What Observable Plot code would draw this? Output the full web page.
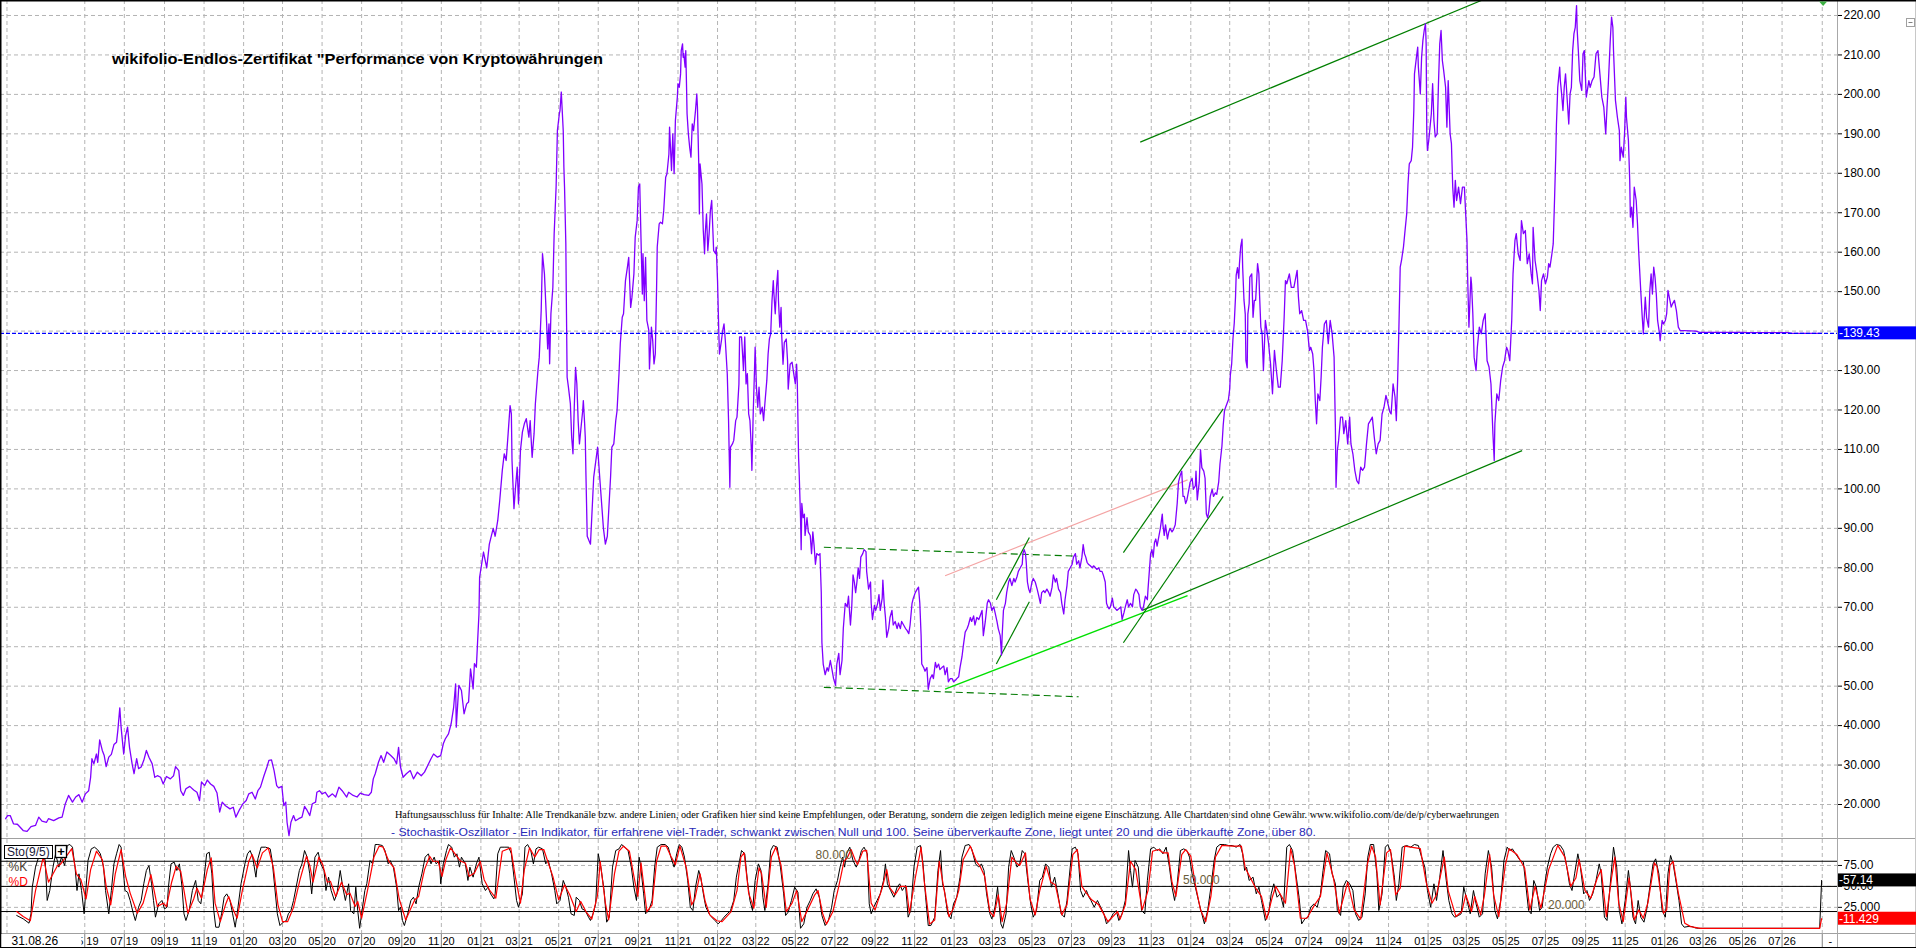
<!DOCTYPE html>
<html><head><meta charset="utf-8">
<script src="https://cdn.jsdelivr.net/npm/d3@7"></script>
<script src="https://cdn.jsdelivr.net/npm/@observablehq/plot@0.6"></script>
<style>
html,body{margin:0;padding:0;background:#fff;overflow:hidden}
#wrap{position:relative;width:1916px;height:948px;background:#fff;overflow:hidden}
#wrap svg{position:absolute;left:0}
</style></head><body><div id="wrap"></div>
<script>
// ---------- DATA ----------
const price = [["2018-12-30",16.4],["2019-01-02",17.2],["2019-01-06",17.2],["2019-01-11",15.1],["2019-01-17",15.0],["2019-01-21",14.3],["2019-01-26",13.4],["2019-02-01",13.2],["2019-02-07",14.4],["2019-02-14",14.7],["2019-02-19",16.8],["2019-02-24",15.8],["2019-03-03",15.5],["2019-03-06",16.4],["2019-03-14",15.9],["2019-03-22",16.6],["2019-03-27",16.8],["2019-04-01",20.2],["2019-04-06",22.3],["2019-04-12",20.6],["2019-04-17",21.9],["2019-04-22",22.5],["2019-04-27",20.6],["2019-05-02",22.7],["2019-05-07",23.5],["2019-05-10",26.9],["2019-05-12",31.6],["2019-05-15",30.3],["2019-05-19",32.8],["2019-05-21",30.7],["2019-05-24",36.4],["2019-05-28",33.7],["2019-05-31",32.4],["2019-06-03",29.6],["2019-06-07",32],["2019-06-11",32.7],["2019-06-15",35.2],["2019-06-19",35.8],["2019-06-21",38.8],["2019-06-24",44.5],["2019-06-26",39.6],["2019-06-30",32.8],["2019-07-03",37.5],["2019-07-06",39.6],["2019-07-09",34.5],["2019-07-13",30.3],["2019-07-16",27.8],["2019-07-20",31.6],["2019-07-23",29.1],["2019-07-27",29.5],["2019-07-31",31.2],["2019-08-04",33.7],["2019-08-08",32],["2019-08-13",30.3],["2019-08-17",26.9],["2019-08-21",27.3],["2019-08-26",26.9],["2019-08-30",25.2],["2019-09-04",27.1],["2019-09-10",26.5],["2019-09-15",27.3],["2019-09-18",29.6],["2019-09-23",28.6],["2019-09-26",23.5],["2019-09-30",22.3],["2019-10-04",24],["2019-10-10",24.6],["2019-10-16",23.7],["2019-10-21",23.1],["2019-10-25",21],["2019-10-28",25.7],["2019-11-02",24.8],["2019-11-06",26.2],["2019-11-11",25.2],["2019-11-16",24.6],["2019-11-21",22.9],["2019-11-25",18.1],["2019-11-29",20.6],["2019-12-04",19.7],["2019-12-11",18.9],["2019-12-16",19.3],["2019-12-20",16.8],["2019-12-25",18.5],["2019-12-31",20.2],
["2020-01-05",21],["2020-01-09",22.7],["2020-01-14",23.1],["2020-01-19",21.4],["2020-01-23",23.5],["2020-01-27",24.4],["2020-02-01",27.1],["2020-02-06",29.5],["2020-02-09",31.2],["2020-02-13",31.3],["2020-02-17",28.6],["2020-02-21",24.8],["2020-02-24",24.2],["2020-02-29",24.6],["2020-03-03",19.7],["2020-03-06",20.6],["2020-03-08",15.5],["2020-03-11",12.1],["2020-03-14",15.5],["2020-03-18",17.2],["2020-03-21",15.9],["2020-03-26",16.4],["2020-03-31",16.8],["2020-04-04",19.5],["2020-04-08",18.5],["2020-04-12",17.2],["2020-04-16",20.2],["2020-04-21",20.6],["2020-04-23",23.1],["2020-04-27",23.5],["2020-05-01",22.7],["2020-05-06",23.1],["2020-05-11",21.9],["2020-05-17",22.7],["2020-05-22",21.9],["2020-05-27",24.4],["2020-06-01",23.5],["2020-06-08",21.9],["2020-06-11",23.1],["2020-06-18",22.3],["2020-06-24",21.9],["2020-06-29",22.9],["2020-07-05",22.5],["2020-07-12",22.3],["2020-07-16",23.1],["2020-07-19",26.5],["2020-07-22",27.8],["2020-07-27",30.7],["2020-07-31",32.4],["2020-08-04",30.7],["2020-08-09",33.3],["2020-08-15",32.4],["2020-08-20",31.6],["2020-08-24",30.3],["2020-08-27",34.5],["2020-08-30",29.5],["2020-09-03",26.9],["2020-09-08",27.8],["2020-09-14",28.6],["2020-09-19",26.5],["2020-09-25",28.2],["2020-10-01",27.3],["2020-10-06",28.2],["2020-10-11",29.9],["2020-10-16",31.6],["2020-10-20",32.8],["2020-10-26",32],["2020-10-31",32.4],["2020-11-04",35.4],["2020-11-07",36.6],["2020-11-12",37.9],["2020-11-16",40.4],["2020-11-20",44.7],["2020-11-23",50.6],["2020-11-24",39.6],["2020-11-28",50.2],["2020-12-02",48.9],["2020-12-06",43],["2020-12-10",45.5],["2020-12-13",46],["2020-12-16",54.4],["2020-12-20",49.3],["2020-12-22",55.7],["2020-12-25",54.8],["2020-12-27",61.6],["2020-12-29",68.3],["2020-12-30",77.6],
["2021-01-05",84],["2021-01-10",80],["2021-01-14",86],["2021-01-20",90],["2021-01-23",88],["2021-01-27",92],["2021-01-30",97],["2021-02-03",104.7],["2021-02-06",108.9],["2021-02-09",107.2],["2021-02-12",114],["2021-02-15",121.1],["2021-02-17",119],["2021-02-18",107.2],["2021-02-21",95],["2021-02-23",99.6],["2021-02-26",105.5],["2021-02-28",96.2],["2021-03-03",109.7],["2021-03-06",114.4],["2021-03-09",116.5],["2021-03-12",117.8],["2021-03-16",113.1],["2021-03-18",117.3],["2021-03-21",108],["2021-03-24",114],["2021-03-26",121.6],["2021-03-30",130],["2021-04-01",133.4],["2021-04-04",145.2],["2021-04-06",159.6],["2021-04-09",154.5],["2021-04-12",143.5],["2021-04-14",135.5],["2021-04-16",141.8],["2021-04-17",131.7],["2021-04-19",144.4],["2021-04-22",151.1],["2021-04-24",164.7],["2021-04-27",176.5],["2021-04-29",190.8],["2021-05-02",195.1],["2021-05-03",195.9],["2021-05-05",200.6],["2021-05-08",190.8],["2021-05-09",181.5],["2021-05-10",176.5],["2021-05-12",162.1],["2021-05-13",144.4],["2021-05-14",128.3],["2021-05-16",125.8],["2021-05-19",121.6],["2021-05-21",113.1],["2021-05-23",108.9],["2021-05-25",120.7],["2021-05-27",130.8],["2021-05-29",126.6],["2021-05-31",117.3],["2021-06-02",111.4],["2021-06-04",114.8],["2021-06-07",119.8],["2021-06-08",122.4],["2021-06-10",116.5],["2021-06-11",113.1],["2021-06-12",103.8],["2021-06-14",88],["2021-06-19",86],["2021-06-24",103],["2021-06-30",110.6],["2021-07-04",101.3],["2021-07-09",90],["2021-07-12",86],["2021-07-15",88],["2021-07-20",103],["2021-07-22",110.6],["2021-07-25",111.4],["2021-07-28",117.3],["2021-07-30",119.8],["2021-08-02",129.2],["2021-08-04",136.8],["2021-08-07",143.5],["2021-08-09",144.4],["2021-08-12",152.8],["2021-08-15",156.2],["2021-08-17",158.7],["2021-08-20",146],["2021-08-22",148.6],["2021-08-25",154.5],["2021-08-27",163.8],["2021-08-30",168],["2021-09-01",176.5],["2021-09-03",177.3],["2021-09-05",163],["2021-09-07",149.4],["2021-09-08",159.6],["2021-09-10",147.7],["2021-09-12",158.7],["2021-09-14",142.7],["2021-09-17",140.2],["2021-09-18",130.4],["2021-09-21",141],["2021-09-23",137.6],["2021-09-25",131.7],["2021-09-27",134.2],["2021-09-29",151.1],["2021-09-30",161.3],["2021-10-03",167.2],["2021-10-05",167.6],["2021-10-08",167.2],["2021-10-10",170.6],["2021-10-13",179],["2021-10-15",179.9],["2021-10-18",184.9],["2021-10-19",191.7],["2021-10-22",180.7],["2021-10-24",190],["2021-10-26",179.9],["2021-10-28",193.4],["2021-10-31",199.3],["2021-11-01",202.7],["2021-11-03",201.8],["2021-11-05",205.2],["2021-11-06",211.1],["2021-11-08",212.8],["2021-11-09",209.4],["2021-11-10",210.3],["2021-11-12",206.9],["2021-11-13",211.1],["2021-11-14",203.5],["2021-11-15",195.1],["2021-11-17",190],["2021-11-19",186.6],["2021-11-21",184.1],["2021-11-23",192.5],["2021-11-25",190.8],["2021-11-28",195.9],["2021-11-30",200.1],["2021-12-01",196.8],["2021-12-03",182.4],["2021-12-04",169.7],["2021-12-05",182.4],["2021-12-08",177.3],["2021-12-10",165.5],["2021-12-12",159.6],["2021-12-13",164.7],["2021-12-15",169.7],["2021-12-17",160.4],["2021-12-19",164.7],["2021-12-21",170.6],["2021-12-23",173.1],["2021-12-25",164.7],["2021-12-26",160.4],["2021-12-29",159.6],["2021-12-30",161.3],
["2022-01-01",152.8],["2022-01-03",139.3],["2022-01-04",134.2],["2022-01-07",137.6],["2022-01-09",140.2],["2022-01-11",141.8],["2022-01-13",137.6],["2022-01-16",129.2],["2022-01-18",117.3],["2022-01-20",100.4],["2022-01-21",110.6],["2022-01-24",111.4],["2022-01-26",112.3],["2022-01-29",117.3],["2022-01-31",118.2],["2022-02-03",126.6],["2022-02-04",138.5],["2022-02-07",138.5],["2022-02-08",135.9],["2022-02-10",130],["2022-02-12",138.5],["2022-02-14",126.6],["2022-02-16",129.2],["2022-02-18",119],["2022-02-20",117.3],["2022-02-22",110.6],["2022-02-23",104.7],["2022-02-25",119],["2022-02-27",130],["2022-02-28",135.9],["2022-03-02",125.8],["2022-03-04",120.7],["2022-03-06",125.8],["2022-03-08",119],["2022-03-11",120.7],["2022-03-13",117.3],["2022-03-15",121.6],["2022-03-18",127.5],["2022-03-20",134.2],["2022-03-22",138],["2022-03-24",139.3],["2022-03-26",147.7],["2022-03-28",152.8],["2022-03-29",149.4],["2022-03-31",144.4],["2022-04-02",151.1],["2022-04-04",155.4],["2022-04-05",147.7],["2022-04-07",141],["2022-04-09",146],["2022-04-10",138.9],["2022-04-12",131.6],["2022-04-14",137.1],["2022-04-17",138],["2022-04-19",132.5],["2022-04-20",125.3],["2022-04-23",131.6],["2022-04-26",132.1],["2022-04-28",129.8],["2022-05-01",126.6],["2022-05-03",131.6],["2022-05-04",127.1],["2022-05-06",108.1],["2022-05-07",103.6],["2022-05-09",92.7],["2022-05-10",84.6],["2022-05-11",96.3],["2022-05-13",92.7],["2022-05-15",93.6],["2022-05-16",88.2],["2022-05-19",92.7],["2022-05-21",89.1],["2022-05-24",88.2],["2022-05-26",83.6],["2022-05-28",89.1],["2022-05-30",85.5],["2022-06-01",80.9],["2022-06-03",83.6],["2022-06-06",83.2],["2022-06-08",83.6],["2022-06-10",73.7],["2022-06-11",61],["2022-06-13",55.6],["2022-06-16",52.9],["2022-06-19",54.7],["2022-06-21",53.8],["2022-06-24",56.5],["2022-06-26",54.7],["2022-06-29",51.9],["2022-07-02",50.2],["2022-07-04",55.6],["2022-07-07",58.3],["2022-07-09",52.9],["2022-07-12",56.5],["2022-07-14",64.6],["2022-07-17",71],["2022-07-20",70.1],["2022-07-22",72.8],["2022-07-25",65.5],["2022-07-27",70.1],["2022-07-29",78.2],["2022-07-31",76.4],["2022-08-02",73.7],["2022-08-04",76.4],["2022-08-06",80],["2022-08-08",77.3],["2022-08-10",82.7],["2022-08-13",83.6],["2022-08-15",84.6],["2022-08-18",84.1],["2022-08-19",79.1],["2022-08-22",74.6],["2022-08-25",76.4],["2022-08-26",71],["2022-08-28",66.9],["2022-08-31",70.5],["2022-09-02",69.2],["2022-09-05",71],["2022-09-07",73.2],["2022-09-09",69.2],["2022-09-12",72.3],["2022-09-13",76.9],["2022-09-15",71],["2022-09-17",67.4],["2022-09-19",62.4],["2022-09-22",64.6],["2022-09-24",67.4],["2022-09-27",69.2],["2022-09-29",65.5],["2022-10-02",66.4],["2022-10-05",64.6],["2022-10-07",66],["2022-10-10",64.6],["2022-10-12",66.4],["2022-10-15",65.5],["2022-10-18",64.6],["2022-10-20",64.2],["2022-10-23",63.3],["2022-10-25",65.5],["2022-10-28",71],["2022-10-30",72.3],["2022-11-02",73.7],["2022-11-05",74.6],["2022-11-07",75.1],["2022-11-09",71],["2022-11-11",62.8],["2022-11-12",55.6],["2022-11-15",54.7],["2022-11-17",53.8],["2022-11-20",54.7],["2022-11-22",49.2],["2022-11-25",51.9],["2022-11-28",52.9],["2022-11-30",51.9],["2022-12-03",56],["2022-12-05",54.7],["2022-12-08",55.6],["2022-12-10",54.2],["2022-12-13",54.7],["2022-12-16",55.1],["2022-12-18",52.9],["2022-12-21",54.7],["2022-12-23",51.1],["2022-12-26",51.9],["2022-12-29",51.9],["2022-12-31",51.1],
["2023-01-03",51.5],["2023-01-05",51.9],["2023-01-08",52.4],["2023-01-10",54.7],["2023-01-13",57.4],["2023-01-15",60.1],["2023-01-18",63.7],["2023-01-21",64.6],["2023-01-23",65.5],["2023-01-26",67.4],["2023-01-28",66.4],["2023-01-31",67.8],["2023-02-02",65.5],["2023-02-05",67.4],["2023-02-08",66.9],["2023-02-10",67.8],["2023-02-13",69.2],["2023-02-15",62.8],["2023-02-18",66.4],["2023-02-21",71],["2023-02-23",71.9],["2023-02-26",71],["2023-02-28",69.2],["2023-03-03",70.1],["2023-03-05",68.7],["2023-03-08",66.4],["2023-03-10",64.6],["2023-03-13",62.8],["2023-03-15",57.9],["2023-03-16",62.8],["2023-03-18",69.2],["2023-03-21",71],["2023-03-23",73.7],["2023-03-26",76.4],["2023-03-28",77.3],["2023-03-31",75.5],["2023-04-03",77.3],["2023-04-05",76.4],["2023-04-08",77.8],["2023-04-10",79.1],["2023-04-13",80],["2023-04-16",80.9],["2023-04-17",83.6],["2023-04-19",84.6],["2023-04-21",83.6],["2023-04-22",81.8],["2023-04-24",76.4],["2023-04-26",74.6],["2023-04-28",73.7],["2023-05-01",76.4],["2023-05-03",77.3],["2023-05-06",76.4],["2023-05-09",74.6],["2023-05-11",73.2],["2023-05-14",71],["2023-05-16",73.7],["2023-05-19",74.2],["2023-05-21",73.7],["2023-05-24",74.6],["2023-05-27",73.7],["2023-05-29",72.8],["2023-06-01",75.1],["2023-06-03",78.2],["2023-06-06",76.4],["2023-06-08",77.3],["2023-06-11",74.6],["2023-06-14",73.7],["2023-06-16",71],["2023-06-19",68.3],["2023-06-21",71.9],["2023-06-24",75.5],["2023-06-26",79.1],["2023-06-29",80],["2023-07-02",80.9],["2023-07-04",82.7],["2023-07-07",83.6],["2023-07-09",80.9],["2023-07-12",81.8],["2023-07-14",80],["2023-07-17",82.7],["2023-07-19",85.9],["2023-07-21",83.6],["2023-07-23",82.7],["2023-07-25",81.4],["2023-07-27",80.9],["2023-07-30",80.5],["2023-08-02",80],["2023-08-04",80.5],["2023-08-07",80],["2023-08-09",79.6],["2023-08-12",80],["2023-08-14",79.1],["2023-08-17",79.1],["2023-08-19",78.2],["2023-08-22",76.4],["2023-08-24",71],["2023-08-26",70.1],["2023-08-28",69.6],["2023-08-30",70.1],["2023-09-02",72.3],["2023-09-04",70.1],["2023-09-07",69.6],["2023-09-09",69.2],["2023-09-12",69.6],["2023-09-15",70.1],["2023-09-17",66.9],["2023-09-20",68.7],["2023-09-22",70.1],["2023-09-25",71.9],["2023-09-27",70.1],["2023-09-30",71],["2023-10-03",70.1],["2023-10-05",73.2],["2023-10-08",74.6],["2023-10-10",74.2],["2023-10-13",73.2],["2023-10-15",70.1],["2023-10-18",69.2],["2023-10-20",70.1],["2023-10-23",72.8],["2023-10-26",71.9],["2023-10-27",74.6],["2023-10-29",79.1],["2023-10-31",83.6],["2023-11-02",84.6],["2023-11-04",82.7],["2023-11-06",86.4],["2023-11-08",87.3],["2023-11-10",85.5],["2023-11-13",88.2],["2023-11-15",90],["2023-11-18",93.6],["2023-11-19",90.9],["2023-11-21",88.2],["2023-11-23",90.9],["2023-11-26",87.3],["2023-11-28",89.1],["2023-11-30",90],["2023-12-03",89.1],["2023-12-05",89.6],["2023-12-08",90.9],["2023-12-11",96.3],["2023-12-13",101.7],["2023-12-16",103.6],["2023-12-18",104.5],["2023-12-20",98.1],["2023-12-22",98.1],["2023-12-24",96.3],["2023-12-26",97.2],["2023-12-29",99.9],["2023-12-31",101.7],
["2024-01-03",102.7],["2024-01-05",99.9],["2024-01-08",100.8],["2024-01-09",104.5],["2024-01-11",97.2],["2024-01-14",101.7],["2024-01-16",109.9],["2024-01-18",105.4],["2024-01-21",104.5],["2024-01-23",102.7],["2024-01-25",93.6],["2024-01-27",92.7],["2024-01-29",94.5],["2024-01-31",98.1],["2024-02-03",99.9],["2024-02-05",98.1],["2024-02-08",99],["2024-02-10",98.6],["2024-02-13",101.7],["2024-02-15",106.3],["2024-02-18",110.8],["2024-02-20",116.2],["2024-02-22",119.9],["2024-02-24",120.8],["2024-02-26",121.7],["2024-02-28",122.6],["2024-03-01",125.3],["2024-03-02",128.9],["2024-03-04",131.6],["2024-03-06",138],["2024-03-08",142],["2024-03-10",148.8],["2024-03-11",154.2],["2024-03-13",156.1],["2024-03-15",153.4],["2024-03-16",157],["2024-03-18",161.5],["2024-03-20",163.3],["2024-03-21",156.1],["2024-03-23",147.9],["2024-03-25",144.3],["2024-03-26",132.5],["2024-03-28",130.7],["2024-03-29",144.3],["2024-03-31",147],["2024-04-01",153.7],["2024-04-04",154.5],["2024-04-06",143.5],["2024-04-08",147.8],["2024-04-10",147.8],["2024-04-13",157.1],["2024-04-15",154.5],["2024-04-16",149.4],["2024-04-18",141],["2024-04-20",139.3],["2024-04-22",130],["2024-04-25",142.7],["2024-04-28",139.3],["2024-04-30",136.8],["2024-05-03",131.7],["2024-05-06",124.1],["2024-05-09",135.1],["2024-05-12",130],["2024-05-15",125.8],["2024-05-18",125.8],["2024-05-21",132.5],["2024-05-24",143.5],["2024-05-26",152.8],["2024-05-28",152],["2024-06-01",154.5],["2024-06-04",151.1],["2024-06-08",151.1],["2024-06-11",153.7],["2024-06-13",155.4],["2024-06-15",148.6],["2024-06-17",144.4],["2024-06-20",145.2],["2024-06-23",142.7],["2024-06-26",142.7],["2024-06-29",140.1],["2024-07-02",135.1],["2024-07-04",135.9],["2024-07-07",134.2],["2024-07-09",130],["2024-07-11",122.4],["2024-07-13",116.5],["2024-07-15",124.1],["2024-07-18",122.4],["2024-07-20",128.3],["2024-07-22",135.9],["2024-07-25",141.8],["2024-07-28",142.7],["2024-07-31",136.8],["2024-08-03",142.7],["2024-08-06",139.3],["2024-08-09",133.4],["2024-08-11",115.6],["2024-08-12",100.4],["2024-08-14",109.7],["2024-08-16",112.3],["2024-08-19",118.2],["2024-08-22",118.2],["2024-08-24",114],["2024-08-27",117.3],["2024-08-30",111.4],["2024-09-02",118.2],["2024-09-04",111.4],["2024-09-07",108.9],["2024-09-10",104.7],["2024-09-13",102.1],["2024-09-16",101.3],["2024-09-19",105.5],["2024-09-22",104.7],["2024-09-25",105.5],["2024-09-28",111.4],["2024-10-01",116.5],["2024-10-04",117.3],["2024-10-07",118.2],["2024-10-10",113.1],["2024-10-13",108.9],["2024-10-16",111.4],["2024-10-19",112.3],["2024-10-22",119],["2024-10-25",120.7],["2024-10-28",123.7],["2024-10-30",122.4],["2024-11-03",119.5],["2024-11-05",119],["2024-11-08",126.6],["2024-11-11",123.3],["2024-11-13",117.3],["2024-11-15",127.5],["2024-11-17",141],["2024-11-19",156.2],["2024-11-21",157.9],["2024-11-24",161.3],["2024-11-26",164.7],["2024-11-29",169.7],["2024-12-01",177.3],["2024-12-03",182.4],["2024-12-06",183.2],["2024-12-08",186.6],["2024-12-10",195.9],["2024-12-11",205.2],["2024-12-14",209.4],["2024-12-16",212],["2024-12-17",206.9],["2024-12-20",200.1],["2024-12-22",209.4],["2024-12-24",213.7],["2024-12-26",216.2],["2024-12-28",217.9],["2024-12-29",212.8],["2024-12-30",190],["2024-12-31",185.8],
["2025-01-02",188.3],["2025-01-03",190],["2025-01-06",195.1],["2025-01-08",202.7],["2025-01-10",193.4],["2025-01-12",189.2],["2025-01-15",190],["2025-01-17",202.7],["2025-01-19",212.8],["2025-01-21",216.2],["2025-01-23",208.6],["2025-01-25",206.1],["2025-01-28",201.8],["2025-01-30",191.7],["2025-02-01",203.5],["2025-02-04",190],["2025-02-06",187.5],["2025-02-08",176.5],["2025-02-10",171.4],["2025-02-12",178.2],["2025-02-14",173.1],["2025-02-17",176.5],["2025-02-20",172.3],["2025-02-23",176.5],["2025-02-26",176.5],["2025-02-27",173.1],["2025-03-02",163],["2025-03-03",153.7],["2025-03-05",141],["2025-03-08",153.7],["2025-03-09",152],["2025-03-11",144.4],["2025-03-13",133.4],["2025-03-16",130],["2025-03-18",135.9],["2025-03-21",141],["2025-03-24",139.3],["2025-03-27",142.7],["2025-03-30",144.4],["2025-04-02",132.5],["2025-04-05",130.9],["2025-04-08",126.6],["2025-04-11",114],["2025-04-13",107.2],["2025-04-14",116.5],["2025-04-17",124.1],["2025-04-20",122.4],["2025-04-23",127.5],["2025-04-26",130.9],["2025-04-29",132.5],["2025-05-02",135.9],["2025-05-04",135.1],["2025-05-07",132.5],["2025-05-10",142.7],["2025-05-12",154.5],["2025-05-15",163],["2025-05-17",164.7],["2025-05-20",159.6],["2025-05-23",157.9],["2025-05-25",168],["2025-05-28",164.7],["2025-05-31",165.5],["2025-06-03",157.1],["2025-06-06",159.6],["2025-06-09",154.5],["2025-06-11",152],["2025-06-12",166.3],["2025-06-15",157.9],["2025-06-18",154.5],["2025-06-21",150.3],["2025-06-23",145.2],["2025-06-25",152.8],["2025-06-28",154.5],["2025-07-01",152],["2025-07-04",153.7],["2025-07-06",157.1],["2025-07-08",156.2],["2025-07-11",159.6],["2025-07-13",162.1],["2025-07-15",173.1],["2025-07-17",184.9],["2025-07-18",192.5],["2025-07-20",201.8],["2025-07-23",206.9],["2025-07-24",203.5],["2025-07-26",200.1],["2025-07-28",195.9],["2025-07-30",201.8],["2025-08-01",205.2],["2025-08-03",200.1],["2025-08-06",192.5],["2025-08-08",200.1],["2025-08-10",201.8],["2025-08-12",211.1],["2025-08-14",215.4],["2025-08-16",217],["2025-08-18",222.5],["2025-08-19",216.2],["2025-08-21",210.3],["2025-08-23",203.5],["2025-08-26",201],["2025-08-28",210.3],["2025-08-30",211.1],["2025-09-02",199.3],["2025-09-06",203.5],["2025-09-08",201.8],["2025-09-11",203.5],["2025-09-14",204.4],["2025-09-17",210.3],["2025-09-20",211.1],["2025-09-23",205.2],["2025-09-26",199.3],["2025-09-29",196.8],["2025-10-02",190],["2025-10-04",196.8],["2025-10-06",202.7],["2025-10-09",213.7],["2025-10-11",219.6],["2025-10-13",217],["2025-10-14",211.1],["2025-10-17",198.5],["2025-10-20",194.2],["2025-10-23",190.8],["2025-10-24",183.2],["2025-10-26",186.6],["2025-10-29",184.1],["2025-10-31",190],["2025-11-02",199.3],["2025-11-03",194.2],["2025-11-06",188.3],["2025-11-08",178.2],["2025-11-09",168.9],["2025-11-11",171.4],["2025-11-13",166.3],["2025-11-15",176.5],["2025-11-18",173.1],["2025-11-20",167.2],["2025-11-22",159.6],["2025-11-25",150.3],["2025-11-27",144.4],["2025-11-29",139.3],["2025-12-02",148.6],["2025-12-04",143.5],["2025-12-07",141],["2025-12-09",150.3],["2025-12-11",154.5],["2025-12-13",149.4],["2025-12-15",156.2],["2025-12-17",153.7],["2025-12-19",149.4],["2025-12-21",142.7],["2025-12-24",139.3],["2025-12-25",137.6],["2025-12-28",142.7],["2025-12-30",141.8],
["2026-01-02",142.7],["2026-01-04",144.4],["2026-01-06",150.3],["2026-01-09",147.8],["2026-01-11",146.1],["2026-01-13",146.9],["2026-01-16",147.8],["2026-01-19",145.2],["2026-01-22",141],["2026-01-25",140.1],["2026-01-31",140.1],["2026-02-18",140],["2026-02-24",139.7],["2026-04-30",139.7],["2026-05-06",139.6],["2026-07-10",139.6],["2026-07-16",139.43],["2026-08-31",139.43]];

const stochK = [["2019-01-16",15.3],["2019-01-26",11.3],["2019-02-04",6.1],["2019-02-07",17.3],["2019-02-09",49.1],["2019-02-14",73],["2019-02-18",82.9],["2019-02-23",94.8],["2019-03-01",80.9],["2019-03-04",33.2],["2019-03-08",45.1],["2019-03-13",73],["2019-03-17",88.9],["2019-03-22",73],["2019-03-26",84.9],["2019-03-31",74.9],["2019-04-04",98.8],["2019-04-08",100],["2019-04-12",96.8],["2019-04-16",73],["2019-04-19",45.1],["2019-04-22",65],["2019-04-26",45.1],["2019-04-30",17.3],["2019-05-03",49.1],["2019-05-06",80.9],["2019-05-11",94.8],["2019-05-16",96.8],["2019-05-21",93.6],["2019-05-25",88.9],["2019-05-30",73],["2019-06-02",45.1],["2019-06-07",17.3],["2019-06-11",45.1],["2019-06-15",76.9],["2019-06-19",88.9],["2019-06-23",100],["2019-06-26",96.8],["2019-06-29",73],["2019-07-02",45.1],["2019-07-06",43.1],["2019-07-10",33.2],["2019-07-15",17.3],["2019-07-18",9.3],["2019-07-23",25.2],["2019-07-27",33.2],["2019-07-31",53.1],["2019-08-04",69],["2019-08-08",74.9],["2019-08-12",53.1],["2019-08-15",33.2],["2019-08-18",13.3],["2019-08-23",29.2],["2019-08-28",33.2],["2019-09-01",23.2],["2019-09-05",25.2],["2019-09-07",49.1],["2019-09-11",76.9],["2019-09-16",78.9],["2019-09-20",69],["2019-09-24",76.9],["2019-09-28",49.1],["2019-10-01",17.3],["2019-10-04",9.3],["2019-10-09",21.2],["2019-10-14",45.1],["2019-10-19",57.1],["2019-10-23",33.2],["2019-10-27",29.2],["2019-10-31",53.1],["2019-11-05",88.9],["2019-11-09",90.8],["2019-11-13",65],["2019-11-16",21.2],["2019-11-19",1.3],["2019-11-24",1.3],["2019-11-28",17.3],["2019-12-02",37.1],["2019-12-06",41.1],["2019-12-11",33.2],["2019-12-15",17.3],["2019-12-19",1.3],["2019-12-22",17.3],["2019-12-28",53.1],
["2020-01-03",76.9],["2020-01-07",88.9],["2020-01-11",92.8],["2020-01-15",84.9],["2020-01-20",61],["2020-01-23",82.9],["2020-01-28",96.8],["2020-02-04",96.8],["2020-02-11",94.8],["2020-02-14",80.9],["2020-02-18",49.1],["2020-02-22",17.3],["2020-02-26",3.3],["2020-03-02",7.3],["2020-03-07",9.3],["2020-03-10",17.3],["2020-03-14",21.2],["2020-03-18",33.2],["2020-03-22",49.1],["2020-03-27",69],["2020-03-31",76.9],["2020-04-04",92.8],["2020-04-08",84.9],["2020-04-12",65],["2020-04-15",41.1],["2020-04-20",84.9],["2020-04-25",90.8],["2020-04-29",76.9],["2020-05-04",69],["2020-05-07",45.1],["2020-05-11",61],["2020-05-15",45.1],["2020-05-20",33.2],["2020-05-24",41.1],["2020-05-29",69],["2020-06-02",49.1],["2020-06-06",33.2],["2020-06-11",53.1],["2020-06-14",21.2],["2020-06-19",17.3],["2020-06-22",49.1],["2020-06-25",21.2],["2020-06-28",0],["2020-07-01",17.3],["2020-07-06",45.1],["2020-07-09",53.1],["2020-07-14",80.9],["2020-07-18",76.9],["2020-07-22",100],["2020-07-26",100],["2020-08-02",98.8],["2020-08-06",92.8],["2020-08-11",76.9],["2020-08-14",80.9],["2020-08-19",73],["2020-08-24",49.1],["2020-08-27",21.2],["2020-08-30",25.2],["2020-09-02",9.3],["2020-09-05",3.3],["2020-09-10",17.3],["2020-09-15",33.2],["2020-09-19",37.1],["2020-09-23",29.2],["2020-09-27",49.1],["2020-10-02",65],["2020-10-07",84.9],["2020-10-12",88.9],["2020-10-16",76.9],["2020-10-21",84.9],["2020-10-24",76.9],["2020-10-29",80.9],["2020-10-31",53.1],["2020-11-04",76.9],["2020-11-09",92.8],["2020-11-12",100],["2020-11-17",96.8],["2020-11-21",84.9],["2020-11-25",88.9],["2020-11-29",73],["2020-12-02",84.9],["2020-12-08",76.9],["2020-12-12",57.1],["2020-12-15",73],["2020-12-20",61],["2020-12-25",76.9],["2020-12-29",84.9],
["2021-01-03",53.1],["2021-01-08",45.1],["2021-01-12",49.1],["2021-01-16",41.1],["2021-01-21",35.1],["2021-01-23",41.1],["2021-01-27",88.9],["2021-01-31",96.8],["2021-02-07",96.8],["2021-02-13",96.8],["2021-02-17",88.9],["2021-02-21",61],["2021-02-25",33.2],["2021-02-28",25.2],["2021-03-06",41.1],["2021-03-10",96.8],["2021-03-14",100],["2021-03-19",92.8],["2021-03-23",76.9],["2021-03-27",94.8],["2021-03-31",96.8],["2021-04-06",94.8],["2021-04-11",76.9],["2021-04-15",80.9],["2021-04-20",65],["2021-04-25",45.1],["2021-04-28",29.2],["2021-05-03",33.2],["2021-05-08",57.1],["2021-05-12",49.1],["2021-05-16",37.1],["2021-05-20",17.3],["2021-05-25",15.3],["2021-05-28",37.1],["2021-06-02",33.2],["2021-06-06",23.2],["2021-06-11",21.2],["2021-06-16",13.3],["2021-06-19",9.3],["2021-06-23",17.3],["2021-06-27",29.2],["2021-07-01",88.9],["2021-07-05",73],["2021-07-10",45.1],["2021-07-14",7.3],["2021-07-18",13.3],["2021-07-23",73],["2021-07-28",92.8],["2021-08-02",94.8],["2021-08-06",100],["2021-08-11",96.8],["2021-08-16",92.8],["2021-08-21",73],["2021-08-25",49.1],["2021-08-29",33.2],["2021-09-02",84.9],["2021-09-04",76.9],["2021-09-09",41.1],["2021-09-12",17.3],["2021-09-17",21.2],["2021-09-22",33.2],["2021-09-26",73],["2021-09-30",96.8],["2021-10-06",100],["2021-10-12",100],["2021-10-17",96.8],["2021-10-21",84.9],["2021-10-26",73],["2021-10-30",88.9],["2021-11-03",100],["2021-11-07",96.8],["2021-11-11",84.9],["2021-11-16",57.1],["2021-11-20",25.2],["2021-11-24",21.2],["2021-11-28",49.1],["2021-12-03",69],["2021-12-06",61],["2021-12-11",37.1],["2021-12-14",25.2],["2021-12-19",17.3],["2021-12-23",13.3],["2021-12-28",9.3],
["2022-01-02",5.3],["2022-01-07",9.3],["2022-01-11",13.3],["2022-01-16",17.3],["2022-01-21",21.2],["2022-01-26",33.2],["2022-01-30",61],["2022-02-04",80.9],["2022-02-07",92.8],["2022-02-12",88.9],["2022-02-16",57.1],["2022-02-20",33.2],["2022-02-24",21.2],["2022-02-28",57.1],["2022-03-05",76.9],["2022-03-09",69],["2022-03-12",37.1],["2022-03-15",21.2],["2022-03-20",53.1],["2022-03-24",92.8],["2022-03-28",98.8],["2022-04-03",96.8],["2022-04-08",73],["2022-04-13",41.1],["2022-04-16",15.3],["2022-04-20",19.3],["2022-04-25",33.2],["2022-04-30",49.1],["2022-05-05",43.1],["2022-05-09",0],["2022-05-14",5.3],["2022-05-19",25.2],["2022-05-24",33.2],["2022-05-28",41.1],["2022-06-02",47.1],["2022-06-07",37.1],["2022-06-11",15.3],["2022-06-16",3.3],["2022-06-21",9.3],["2022-06-26",25.2],["2022-06-30",45.1],["2022-07-05",57.1],["2022-07-09",73],["2022-07-13",84.9],["2022-07-16",73],["2022-07-19",88.9],["2022-07-24",96.8],["2022-07-29",80.9],["2022-08-03",73],["2022-08-07",80.9],["2022-08-11",92.8],["2022-08-15",96.8],["2022-08-20",88.9],["2022-08-23",29.2],["2022-08-26",17.3],["2022-08-30",25.2],["2022-09-04",33.2],["2022-09-09",41.1],["2022-09-14",57.1],["2022-09-17",76.9],["2022-09-20",53.1],["2022-09-25",45.1],["2022-09-30",37.1],["2022-10-05",49.1],["2022-10-09",53.1],["2022-10-13",45.1],["2022-10-18",51.1],["2022-10-22",13.3],["2022-10-26",21.2],["2022-10-31",73],["2022-11-05",96.8],["2022-11-10",98.8],["2022-11-14",76.9],["2022-11-18",37.1],["2022-11-22",3.3],["2022-11-26",3.3],["2022-12-02",13.3],["2022-12-07",69],["2022-12-11",92.8],["2022-12-14",53.1],["2022-12-17",45.1],["2022-12-22",17.3],["2022-12-27",11.3],["2022-12-31",29.2],
["2023-01-05",37.1],["2023-01-10",61],["2023-01-13",84.9],["2023-01-18",98.8],["2023-01-24",100],["2023-01-28",94.8],["2023-02-03",76.9],["2023-02-08",73],["2023-02-12",76.9],["2023-02-16",69],["2023-02-20",41.1],["2023-02-25",17.3],["2023-02-28",11.3],["2023-03-05",25.2],["2023-03-09",49.1],["2023-03-14",5.3],["2023-03-17",0],["2023-03-22",17.3],["2023-03-26",73],["2023-03-30",92.8],["2023-04-03",84.9],["2023-04-08",73],["2023-04-12",76.9],["2023-04-16",92.8],["2023-04-20",88.9],["2023-04-24",61],["2023-04-29",29.2],["2023-05-03",13.3],["2023-05-08",21.2],["2023-05-13",57.1],["2023-05-17",61],["2023-05-22",76.9],["2023-05-27",73],["2023-05-31",49.1],["2023-06-05",61],["2023-06-10",41.1],["2023-06-15",17.3],["2023-06-20",13.3],["2023-06-24",33.2],["2023-06-29",73],["2023-07-02",94.8],["2023-07-07",96.8],["2023-07-11",88.9],["2023-07-15",45.1],["2023-07-19",37.1],["2023-07-24",45.1],["2023-07-28",37.1],["2023-07-31",33.2],["2023-08-05",25.2],["2023-08-10",33.2],["2023-08-15",25.2],["2023-08-20",17.3],["2023-08-24",5.3],["2023-08-29",9.3],["2023-09-03",17.3],["2023-09-08",21.2],["2023-09-12",9.3],["2023-09-17",17.3],["2023-09-22",33.2],["2023-09-27",92.8],["2023-09-30",69],["2023-10-03",49.1],["2023-10-07",80.9],["2023-10-12",73],["2023-10-17",21.2],["2023-10-22",17.3],["2023-10-26",57.1],["2023-10-31",94.8],["2023-11-05",96.8],["2023-11-10",92.8],["2023-11-14",94.8],["2023-11-19",88.9],["2023-11-24",96.8],["2023-11-29",73],["2023-12-03",49.1],["2023-12-07",33.2],["2023-12-11",53.1],["2023-12-16",92.8],["2023-12-21",94.8],["2023-12-26",92.8],["2023-12-30",84.9],
["2024-01-03",65],["2024-01-08",49.1],["2024-01-14",29.2],["2024-01-18",17.3],["2024-01-22",5.3],["2024-01-27",21.2],["2024-02-01",49.1],["2024-02-06",80.9],["2024-02-10",96.8],["2024-02-15",100],["2024-02-22",100],["2024-02-28",98.8],["2024-03-05",98.8],["2024-03-11",96.8],["2024-03-17",100],["2024-03-21",88.9],["2024-03-24",69],["2024-03-27",73],["2024-03-31",57.1],["2024-04-06",61],["2024-04-11",41.1],["2024-04-15",49.1],["2024-04-19",33.2],["2024-04-25",9.3],["2024-04-30",17.3],["2024-05-04",41.1],["2024-05-08",53.1],["2024-05-13",37.1],["2024-05-18",41.1],["2024-05-23",25.2],["2024-05-28",96.8],["2024-06-01",100],["2024-06-06",92.8],["2024-06-11",65],["2024-06-16",37.1],["2024-06-20",5.3],["2024-06-25",11.3],["2024-06-30",13.3],["2024-07-04",25.2],["2024-07-09",29.2],["2024-07-14",25.2],["2024-07-19",41.1],["2024-07-23",69],["2024-07-27",92.8],["2024-08-02",88.9],["2024-08-06",65],["2024-08-11",53.1],["2024-08-14",21.2],["2024-08-19",15.3],["2024-08-23",49.1],["2024-08-28",57.1],["2024-09-02",53.1],["2024-09-07",45.1],["2024-09-11",17.3],["2024-09-16",9.3],["2024-09-21",13.3],["2024-09-26",41.1],["2024-09-30",84.9],["2024-10-04",100],["2024-10-09",100],["2024-10-14",65],["2024-10-17",21.2],["2024-10-22",41.1],["2024-10-27",96.8],["2024-10-31",100],["2024-11-05",88.9],["2024-11-10",61],["2024-11-13",33.2],["2024-11-17",53.1],["2024-11-22",96.8],["2024-11-29",98.8],["2024-12-05",96.8],["2024-12-11",100],["2024-12-17",98.8],["2024-12-22",84.9],["2024-12-27",73],["2024-12-31",45.1],
["2025-01-05",25.2],["2025-01-10",53.1],["2025-01-14",33.2],["2025-01-19",61],["2025-01-24",92.8],["2025-01-29",57.1],["2025-02-02",33.2],["2025-02-07",17.3],["2025-02-11",13.3],["2025-02-17",15.3],["2025-02-21",17.3],["2025-02-25",49.1],["2025-03-02",33.2],["2025-03-07",17.3],["2025-03-12",45.1],["2025-03-16",29.2],["2025-03-21",13.3],["2025-03-26",17.3],["2025-03-30",65],["2025-04-04",92.8],["2025-04-09",73],["2025-04-14",21.2],["2025-04-18",11.3],["2025-04-23",33.2],["2025-04-28",80.9],["2025-05-03",96.8],["2025-05-07",92.8],["2025-05-11",94.8],["2025-05-16",88.9],["2025-05-23",80.9],["2025-05-28",78.9],["2025-05-31",57.1],["2025-06-05",21.2],["2025-06-09",17.3],["2025-06-13",57.1],["2025-06-17",49.1],["2025-06-22",21.2],["2025-06-26",25.2],["2025-06-30",53.1],["2025-07-04",73],["2025-07-09",88.9],["2025-07-13",96.8],["2025-07-18",100],["2025-07-24",98.8],["2025-07-29",92.8],["2025-08-03",73],["2025-08-07",53.1],["2025-08-11",45.1],["2025-08-15",65],["2025-08-20",88.9],["2025-08-24",73],["2025-08-29",41.1],["2025-09-03",45.1],["2025-09-07",33.2],["2025-09-12",41.1],["2025-09-17",57.1],["2025-09-22",76.9],["2025-09-25",65],["2025-09-30",13.3],["2025-10-04",9.3],["2025-10-09",53.1],["2025-10-14",96.8],["2025-10-19",73],["2025-10-23",21.2],["2025-10-27",5.3],["2025-11-01",33.2],["2025-11-06",69],["2025-11-09",49.1],["2025-11-13",13.3],["2025-11-17",5.3],["2025-11-21",33.2],["2025-11-25",13.3],["2025-11-30",7.3],["2025-12-04",21.2],["2025-12-09",49.1],["2025-12-14",76.9],["2025-12-18",82.9],["2025-12-23",65],["2025-12-28",21.2],
["2026-01-02",13.3],["2026-01-06",65],["2026-01-10",86.9],["2026-01-14",76.9],["2026-01-19",53.1],["2026-01-23",33.2],["2026-01-27",5.3],["2026-01-31",1.3],["2026-02-06",2.1],["2026-02-12",2.1],["2026-02-17",0.5],["2026-02-22",0],["2026-08-28",0],["2026-08-31",57.14]];

const stochD = [["2019-01-16",20],["2019-01-26",14],["2019-02-06",9],["2019-02-14",45],["2019-02-26",85],["2019-03-06",55],["2019-03-20",75],["2019-03-24",76],["2019-03-28",80],["2019-04-11",95],["2019-04-18",65],["2019-04-25",58],["2019-05-03",35],["2019-05-10",70],["2019-05-19",92],["2019-05-28",82],["2019-06-03",50],["2019-06-10",28],["2019-06-17",65],["2019-06-26",94],["2019-07-03",62],["2019-07-10",42],["2019-07-21",18],["2019-07-30",30],["2019-08-11",64],["2019-08-21",26],["2019-08-30",30],["2019-09-04",26],["2019-09-12",55],["2019-09-19",74],["2019-09-26",68],["2019-10-07",18],["2019-10-16",35],["2019-10-21",48],["2019-10-28",36],["2019-11-06",70],["2019-11-12",84],["2019-11-18",30],["2019-11-26",8],["2019-12-04",28],["2019-12-09",38],["2019-12-16",22],["2019-12-22",12],["2019-12-30",45],
["2020-01-09",80],["2020-01-14",88],["2020-01-22",72],["2020-01-30",90],["2020-02-08",96],["2020-02-16",72],["2020-02-23",28],["2020-03-01",8],["2020-03-09",8],["2020-03-18",25],["2020-03-28",58],["2020-04-07",86],["2020-04-12",75],["2020-04-17",55],["2020-04-26",85],["2020-05-02",76],["2020-05-09",55],["2020-05-14",56],["2020-05-22",38],["2020-05-31",55],["2020-06-08",40],["2020-06-13",42],["2020-06-21",26],["2020-06-25",32],["2020-07-01",12],["2020-07-10",45],["2020-07-20",85],["2020-07-28",98],["2020-08-03",97],["2020-08-12",80],["2020-08-20",72],["2020-08-28",35],["2020-09-07",10],["2020-09-14",22],["2020-09-21",34],["2020-09-27",38],["2020-10-06",70],["2020-10-14",86],["2020-10-19",80],["2020-10-27",80],["2020-11-02",62],["2020-11-08",82],["2020-11-15",96],["2020-11-23",88],["2020-12-01",80],["2020-12-08",78],["2020-12-14",62],["2020-12-22",66],["2020-12-31",80],
["2021-01-06",58],["2021-01-14",46],["2021-01-24",36],["2021-01-30",70],["2021-02-03",92],["2021-02-16",96],["2021-02-23",62],["2021-03-03",30],["2021-03-09",70],["2021-03-17",96],["2021-03-25",85],["2021-04-01",94],["2021-04-08",94],["2021-04-14",80],["2021-04-22",62],["2021-05-01",34],["2021-05-10",52],["2021-05-18",40],["2021-05-28",20],["2021-06-04",32],["2021-06-12",20],["2021-06-21",11],["2021-06-30",40],["2021-07-04",80],["2021-07-12",30],["2021-07-17",10],["2021-07-26",65],["2021-08-02",92],["2021-08-09",98],["2021-08-18",92],["2021-08-25",62],["2021-08-31",38],["2021-09-05",78],["2021-09-14",20],["2021-09-22",28],["2021-09-29",80],["2021-10-06",98],["2021-10-14",98],["2021-10-21",86],["2021-10-28",76],["2021-11-04",98],["2021-11-14",72],["2021-11-22",28],["2021-11-27",35],["2021-12-05",65],["2021-12-13",32],["2021-12-20",16],["2021-12-31",9],
["2022-01-08",8],["2022-01-22",20],["2022-01-31",45],["2022-02-06",85],["2022-02-11",90],["2022-02-18",42],["2022-02-26",24],["2022-03-06",72],["2022-03-10",65],["2022-03-17",25],["2022-03-25",85],["2022-04-01",97],["2022-04-09",75],["2022-04-17",20],["2022-04-26",30],["2022-05-03",45],["2022-05-11",8],["2022-05-20",22],["2022-05-31",40],["2022-06-05",45],["2022-06-12",18],["2022-06-18",5],["2022-06-28",20],["2022-07-07",50],["2022-07-15",80],["2022-07-20",84],["2022-07-26",94],["2022-08-01",82],["2022-08-05",76],["2022-08-13",92],["2022-08-19",93],["2022-08-26",30],["2022-09-01",22],["2022-09-12",48],["2022-09-19",70],["2022-09-24",48],["2022-10-02",40],["2022-10-10",50],["2022-10-19",50],["2022-10-24",18],["2022-11-02",60],["2022-11-11",97],["2022-11-16",55],["2022-11-24",5],["2022-12-02",10],["2022-12-09",80],["2022-12-16",48],["2022-12-24",14],["2022-12-31",24],
["2023-01-08",45],["2023-01-15",82],["2023-01-26",98],["2023-02-04",80],["2023-02-10",74],["2023-02-17",62],["2023-02-25",20],["2023-03-03",14],["2023-03-10",40],["2023-03-16",8],["2023-03-23",30],["2023-03-31",85],["2023-04-07",78],["2023-04-12",75],["2023-04-21",90],["2023-04-28",35],["2023-05-06",16],["2023-05-13",45],["2023-05-23",74],["2023-05-30",55],["2023-06-06",52],["2023-06-16",16],["2023-06-24",28],["2023-07-03",88],["2023-07-10",94],["2023-07-17",50],["2023-07-24",42],["2023-08-01",34],["2023-08-12",28],["2023-08-26",8],["2023-09-04",15],["2023-09-10",20],["2023-09-14",11],["2023-09-22",28],["2023-09-30",80],["2023-10-08",70],["2023-10-18",22],["2023-10-27",45],["2023-11-03",92],["2023-11-12",94],["2023-11-20",90],["2023-11-27",90],["2023-12-03",55],["2023-12-09",38],["2023-12-18",88],["2023-12-24",94],["2024-01-01",86],
["2024-01-08",52],["2024-01-16",22],["2024-01-24",8],["2024-02-01",38],["2024-02-08",85],["2024-02-18",99],["2024-03-05",98],["2024-03-19",98],["2024-03-25",72],["2024-04-02",60],["2024-04-10",48],["2024-04-19",38],["2024-04-27",11],["2024-05-06",38],["2024-05-11",50],["2024-05-20",38],["2024-05-26",30],["2024-06-03",95],["2024-06-09",75],["2024-06-18",12],["2024-06-28",12],["2024-07-10",28],["2024-07-19",38],["2024-07-29",90],["2024-08-08",60],["2024-08-17",18],["2024-08-30",55],["2024-09-09",22],["2024-09-19",11],["2024-09-29",75],["2024-10-06",98],["2024-10-12",85],["2024-10-19",28],["2024-10-29",90],["2024-11-04",94],["2024-11-12",40],["2024-11-19",48],["2024-11-26",98],["2024-12-20",95],["2024-12-29",55],
["2025-01-07",30],["2025-01-14",40],["2025-01-26",85],["2025-02-01",45],["2025-02-13",14],["2025-02-22",20],["2025-02-28",40],["2025-03-09",20],["2025-03-14",38],["2025-03-23",16],["2025-03-29",40],["2025-04-06",88],["2025-04-12",40],["2025-04-20",14],["2025-04-30",75],["2025-05-06",95],["2025-05-18",88],["2025-05-30",72],["2025-06-07",22],["2025-06-15",50],["2025-06-24",24],["2025-07-06",70],["2025-07-20",99],["2025-07-31",85],["2025-08-09",50],["2025-08-17",60],["2025-08-22",82],["2025-08-31",45],["2025-09-09",36],["2025-09-19",60],["2025-09-25",70],["2025-10-03",14],["2025-10-11",60],["2025-10-16",85],["2025-10-22",30],["2025-10-29",8],["2025-11-07",60],["2025-11-15",10],["2025-11-22",22],["2025-11-29",12],["2025-12-06",30],["2025-12-16",78],["2025-12-20",74],["2025-12-30",18],
["2026-01-04",22],["2026-01-09",75],["2026-01-14",80],["2026-01-22",42],["2026-02-01",6],["2026-02-10",2],["2026-02-25",0],["2026-08-28",0],["2026-08-31",11.429]];

// drawn trend lines: [date1, value1, date2, value2]
const trendChannel = [["2023-10-15",187.9,"2025-03-24",223.8],["2023-10-18",69.2,"2025-05-26",109.7],["2023-09-19",83.85,"2024-02-20",120.3],["2023-09-19",61.0,"2024-02-20",98.1],["2023-03-07",71.9,"2023-04-27",87.7],["2023-03-07",55.6,"2023-04-27",71.4]];
const supportLine = [["2022-12-18",49.25,"2023-12-27",72.97]];
const sidewaysChannel = [["2022-06-14",85.2,"2023-07-10",82.94],["2022-06-14",49.7,"2023-07-12",47.3]];
const resistanceLine = [["2022-12-18",78.0,"2023-12-27",102.3]];

const priceGrid = [20,30,40,50,60,70,80,90,100,110,120,130,140,150,160,170,180,190,200,210,220];
const priceLabels = [20,30,40,50,60,70,80,90,100,110,120,130,150,160,170,180,190,200,210,220];
const stochTicks = [25,50,75];
const stochLevels = [20,50,80];
const gridDates = ["2019-01-01","2019-05-01","2019-07-01","2019-09-01","2019-11-01","2020-01-01","2020-03-01","2020-05-01","2020-07-01","2020-09-01","2020-11-01","2021-01-01","2021-03-01","2021-05-01","2021-07-01","2021-09-01","2021-11-01","2022-01-01","2022-03-01","2022-05-01","2022-07-01","2022-09-01","2022-11-01","2023-01-01","2023-03-01","2023-05-01","2023-07-01","2023-09-01","2023-11-01","2024-01-01","2024-03-01","2024-05-01","2024-07-01","2024-09-01","2024-11-01","2025-01-01","2025-03-01","2025-05-01","2025-07-01","2025-09-01","2025-11-01","2026-01-01","2026-03-01","2026-05-01","2026-07-01","2026-09-01"];
const labelDates = gridDates.slice(1);

const titleText = 'wikifolio-Endlos-Zertifikat "Performance von Kryptowährungen';
const disclaimerText = "Haftungsausschluss für Inhalte: Alle Trendkanäle bzw. andere Linien, oder Grafiken hier sind keine Empfehlungen, oder Beratung, sondern die zeigen lediglich meine eigene Einschätzung. Alle Chartdaten sind ohne Gewähr. www.wikifolio.com/de/de/p/cyberwaehrungen";
const stochText = "- Stochastik-Oszillator - Ein Indikator, für erfahrene viel-Trader, schwankt zwischen Null und 100. Seine überverkaufte Zone, liegt unter 20 und die überkaufte Zone, über 80.";
const cursorDate = "31.08.26";
const stochName = "Sto(9/5)";

// ---------- CHART ----------
const parse = d3.utcParse("%Y-%m-%d");
const W = 1916, MR = 79;
const FONT = '"Liberation Sans", Arial, sans-serif';
const xDomain = [new Date(Date.UTC(2018, 11, 22)), new Date(Date.UTC(2026, 8, 24, 12))];
const toPts = arr => arr.map(([d, v]) => ({date: parse(d), value: v}));
const toSeg = arr => arr.map(([a, v1, b, v2]) => ({x1: parse(a), y1: v1, x2: parse(b), y2: v2}));
const fmtNum = v => v >= 50 ? v.toFixed(2) : v.toFixed(3);
const gridD = gridDates.map(parse);
const labD = labelDates.map(parse);
const GRID = {stroke: "#b4b4b4", strokeOpacity: 1, strokeDasharray: "4,3"};
const segOpts = {x1: "x1", y1: "y1", x2: "x2", y2: "y2"};

const priceData = toPts(price), kData = toPts(stochK), dData = toPts(stochD);
const lastPrice = price[price.length - 1][1];
const lastK = stochK[stochK.length - 1][1];
const lastD = stochD[stochD.length - 1][1];

const main = Plot.plot({
  width: W, height: 839, marginTop: 0, marginBottom: 0, marginLeft: 0, marginRight: MR,
  style: {fontFamily: FONT, fontSize: "12px", color: "#000", background: "#fff"},
  x: {type: "utc", domain: xDomain, axis: null},
  y: {domain: [11.13, 223.8], axis: null},
  marks: [
    Plot.gridX(gridD, GRID),
    Plot.gridY(priceGrid, GRID),
    Plot.axisY(priceLabels, {anchor: "right", label: null, tickSize: 4, tickPadding: 2, tickFormat: fmtNum}),
    Plot.link(toSeg(sidewaysChannel), {...segOpts, stroke: "#007a00", strokeWidth: 1.1, strokeDasharray: "7,4"}),
    Plot.link(toSeg(resistanceLine), {...segOpts, stroke: "#f4a4a4", strokeWidth: 1.2}),
    Plot.link(toSeg(supportLine), {...segOpts, stroke: "#00e000", strokeWidth: 1.4}),
    Plot.link(toSeg(trendChannel), {...segOpts, stroke: "#007f00", strokeWidth: 1.2}),
    Plot.line(priceData, {x: "date", y: "value", stroke: "#8000ff", strokeWidth: 1.3}),
    Plot.ruleY([lastPrice], {stroke: "#0000ff", strokeWidth: 1.2, strokeDasharray: "4,2"})
  ]
});

const stoch = Plot.plot({
  width: W, height: 94, marginTop: 0, marginBottom: 0, marginLeft: 0, marginRight: MR,
  style: {fontFamily: FONT, fontSize: "12px", color: "#000", background: "#fff"},
  x: {type: "utc", domain: xDomain, axis: null},
  y: {domain: [-6.2, 105.97], axis: null},
  marks: [
    Plot.gridX(gridD, GRID),
    Plot.gridY(stochTicks, GRID),
    Plot.ruleY(stochLevels, {stroke: "#000", strokeWidth: 1}),
    Plot.axisY(stochTicks, {anchor: "right", label: null, tickSize: 4, tickPadding: 2, tickFormat: fmtNum}),
    Plot.line(kData, {x: "date", y: "value", stroke: "#000", strokeWidth: 1}),
    Plot.line(dData, {x: "date", y: "value", stroke: "#ff0000", strokeWidth: 1.2})
  ]
});

const fmtDate = d3.utcFormat("%m %y");
const strip = Plot.plot({
  width: W, height: 15, marginTop: 0, marginBottom: 0, marginLeft: 0, marginRight: MR,
  style: {fontFamily: FONT, fontSize: "11px", color: "#000", background: "#fff"},
  x: {type: "utc", domain: xDomain, axis: null},
  y: {axis: null},
  marks: [
    Plot.ruleX(labD, {stroke: "#808080"}),
    Plot.text(labD.slice(0, -1), {x: d => d, text: d => fmtDate(d), frameAnchor: "middle", fill: "#000"}),
    Plot.text(labD.slice(-1), {x: d => d, text: () => "-", frameAnchor: "middle", dx: 8, fill: "#000"})
  ]
});

const wrap = document.getElementById("wrap");
main.style.top = "0px"; stoch.style.top = "839px"; strip.style.top = "933px";
wrap.appendChild(main); wrap.appendChild(stoch); wrap.appendChild(strip);

// ---------- OVERLAY (frame, tags, annotations) ----------
const yM = v => main.scale("y").apply(v);
const yS = v => 839 + stoch.scale("y").apply(v);
const xM = d => main.scale("x").apply(d);
const ov = d3.select(wrap).append("svg").attr("width", W).attr("height", 948)
  .style("top", "0px").style("pointer-events", "none")
  .attr("font-family", FONT);

const line = (x1, y1, x2, y2, stroke, w = 1) => ov.append("line").attr("x1", x1).attr("y1", y1).attr("x2", x2).attr("y2", y2).attr("stroke", stroke).attr("stroke-width", w);
line(0, 838.5, W, 838.5, "#a0a0a0");
line(0, 933.5, W, 933.5, "#a0a0a0");
line(1837.5, 0, 1837.5, 948, "#a8a8a8");
line(W - 0.5, 0, W - 0.5, 948, "#c8c8c8");
line(0, 947.5, W, 947.5, "#000");
line(0, 0.75, W, 0.75, "#000", 1.5);
line(0.75, 0, 0.75, 948, "#000", 1.5);

function tag(yc, text, fill) {
  ov.append("rect").attr("x", 1838).attr("y", yc - 6.5).attr("width", W - 1838).attr("height", 13).attr("fill", fill);
  ov.append("text").attr("x", 1839).attr("y", yc + 4.3).attr("fill", "#fff").attr("font-size", 12).text("-" + text);
}
tag(yM(lastPrice), fmtNum(lastPrice), "#0000ff");
tag(yS(lastK), fmtNum(lastK), "#000");
tag(yS(lastD), fmtNum(lastD), "#ff0000");

// last-bar marker and window icon
const cx = xM(parse(price[price.length - 1][0])) + 2;
ov.append("path").attr("d", `M${cx - 4},1.5L${cx + 4},1.5L${cx},6Z`).attr("fill", "#3cb043");
ov.append("rect").attr("x", 1906.5).attr("y", 18.5).attr("width", 8).attr("height", 8).attr("fill", "#fff").attr("stroke", "#a0a0a0");
line(1908.5, 22.5, 1912.5, 22.5, "#808080");

// texts
ov.append("text").attr("x", 112).attr("y", 63.5).attr("font-size", 14.5).attr("font-weight", "bold")
  .attr("textLength", 491).attr("lengthAdjust", "spacingAndGlyphs").attr("fill", "#000").text(titleText);
ov.append("text").attr("x", 395).attr("y", 817.5).attr("font-size", 11).attr("font-family", '"Liberation Serif", "Times New Roman", serif')
  .attr("textLength", 1104).attr("lengthAdjust", "spacingAndGlyphs").attr("fill", "#000").text(disclaimerText);
ov.append("text").attr("x", 391).attr("y", 836.3).attr("font-size", 11.5)
  .attr("textLength", 925).attr("lengthAdjust", "spacingAndGlyphs").attr("fill", "#2a2ab8").text(stochText);

// level labels in the oscillator pane
const levelLabelX = {80: 815.5, 50: 1183, 20: 1548};
stochLevels.forEach(l => {
  ov.append("text").attr("x", levelLabelX[l]).attr("y", yS(l) - 2).attr("font-size", 12).attr("fill", "#6b5d3a").text(l.toFixed(3));
});

// indicator legend
ov.append("rect").attr("x", 4.5).attr("y", 845.5).attr("width", 48).attr("height", 13).attr("fill", "#fff").attr("stroke", "#000");
ov.append("text").attr("x", 7).attr("y", 856).attr("font-size", 12).attr("fill", "#1a1a3a").text(stochName);
ov.append("rect").attr("x", 55.5).attr("y", 845.5).attr("width", 11).attr("height", 12).attr("fill", "#fff").attr("stroke", "#000").attr("stroke-width", 1.3);
ov.append("text").attr("x", 61).attr("y", 856).attr("font-size", 13).attr("font-weight", "bold").attr("text-anchor", "middle").text("+");
ov.append("text").attr("x", 8.5).attr("y", 871).attr("font-size", 12).attr("fill", "#4a4030").text("%K");
ov.append("text").attr("x", 8.5).attr("y", 886).attr("font-size", 12).attr("fill", "#ff0000").text("%D");

// cursor date box on the time axis
ov.append("rect").attr("x", 1.5).attr("y", 934).attr("width", 80).attr("height", 13).attr("fill", "#fff");
ov.append("text").attr("x", 11.5).attr("y", 945).attr("font-size", 12).attr("fill", "#000").text(cursorDate);
</script></body></html>
